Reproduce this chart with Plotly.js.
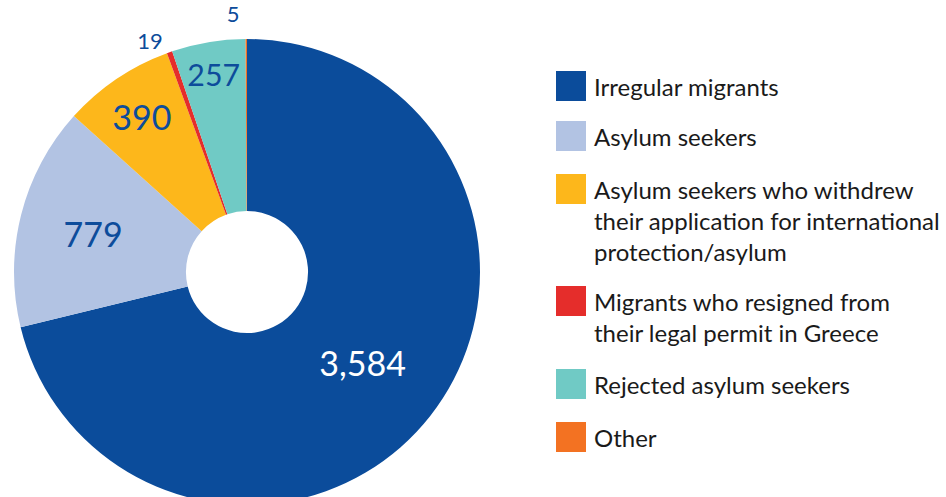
<!DOCTYPE html>
<html>
<head>
<meta charset="utf-8">
<script src="https://cdn.plot.ly/plotly-3.0.1.min.js"></script>
<style>
html,body{margin:0;padding:0;overflow:hidden;background:#fff;}
#chart{width:946px;height:510px;}
</style>
</head>
<body>
<div id="chart"></div>
<script>
// ---- data ----
const categories = [
  "Irregular migrants",
  "Asylum seekers",
  "Asylum seekers who withdrew<br>their application for international<br>protection/asylum",
  "Migrants who resigned from<br>their legal permit in Greece",
  "Rejected asylum seekers",
  "Other"
];
const values = [3584, 779, 390, 19, 257, 5];
const colors = ["#0B4C9B", "#B2C3E3", "#FDB71B", "#E52D2B", "#70CAC5", "#F37222"];

// ---- layout helpers ----
const W = 946, H = 510;
const px = x => x / W;
const py = y => (H - y) / H;

const textPos = values.map(v => v < 50 ? "outside" : "inside");
const textColors = values.map((v, i) => i === 0 ? "#ffffff" : "#0D4C9B");
const textSizes = values.map(v => v < 50 ? 22 : 34);

const trace = {
  type: "pie",
  labels: categories,
  values: values,
  sort: false,
  direction: "clockwise",
  rotation: 0,
  hole: 0.262,
  marker: {colors: colors, line: {width: 0}},
  texttemplate: "%{value:,}",
  textposition: textPos,
  insidetextorientation: "horizontal",
  textfont: {family: "Lato, sans-serif", color: textColors, size: textSizes},
  showlegend: false,
  domain: {x: [px(247 - 233), px(247 + 233)], y: [py(505), py(39)]}
};

// legend built from the category/color arrays
const legTop = [71, 121, 174, 286, 369, 422];
const shapes = [], annotations = [];
categories.forEach((c, i) => {
  shapes.push({
    type: "rect", xref: "paper", yref: "paper",
    x0: px(556), x1: px(586), y0: py(legTop[i] + 30), y1: py(legTop[i]),
    fillcolor: colors[i], line: {width: 0}
  });
  annotations.push({
    xref: "paper", yref: "paper", x: px(592), y: py(legTop[i] - 1),
    xanchor: "left", yanchor: "top", align: "left", showarrow: false,
    text: c, font: {family: "Lato, sans-serif", size: 24, color: "#1a1a1a"}
  });
});

const layout = {
  width: W, height: H,
  margin: {l: 0, r: 0, t: 0, b: 0},
  paper_bgcolor: "#ffffff",
  shapes: shapes,
  annotations: annotations,
  showlegend: false
};

Plotly.newPlot("chart", [trace], layout, {displayModeBar: false, staticPlot: true})
  .then(gd => {
    // the reference shows outside labels without connector lines
    gd.querySelectorAll("path.textline").forEach(p => p.style.display = "none");
  });
</script>
</body>
</html>
